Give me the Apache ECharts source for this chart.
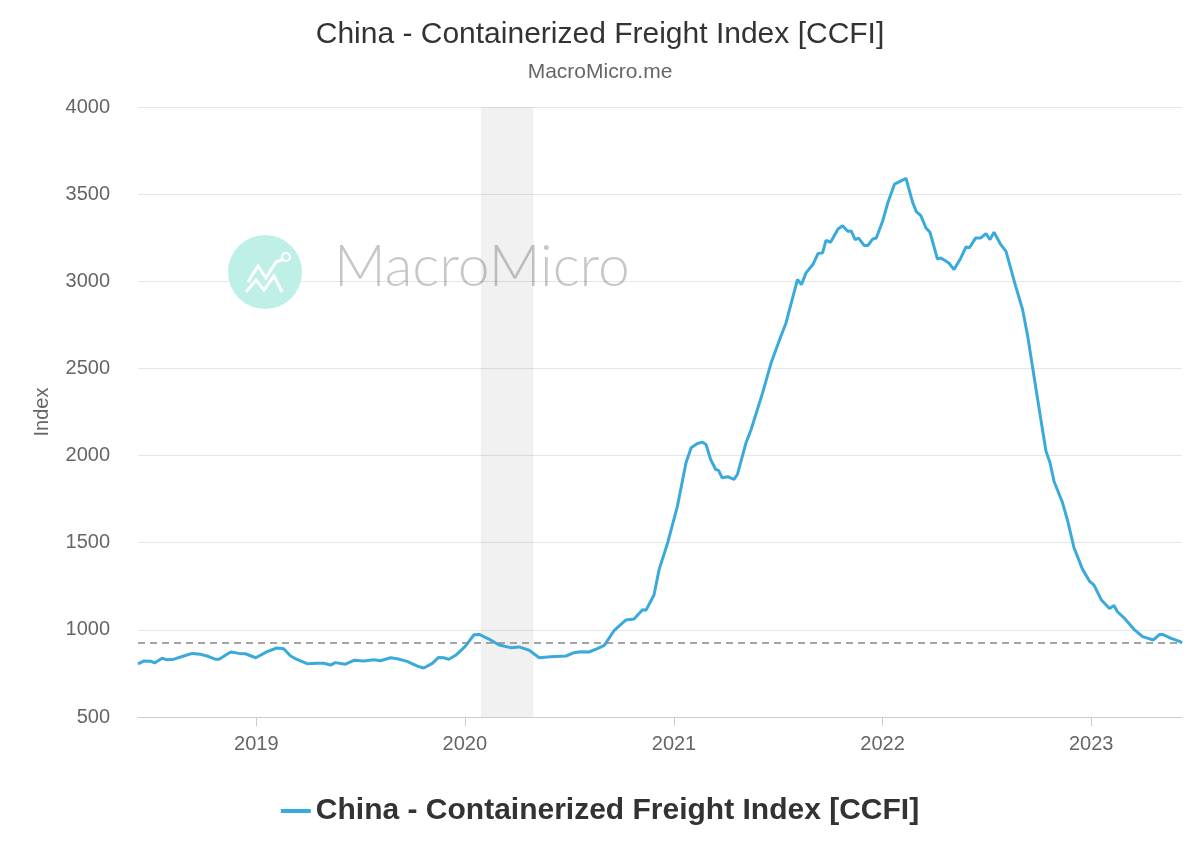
<!DOCTYPE html>
<html>
<head>
<meta charset="utf-8">
<script src="https://cdn.jsdelivr.net/npm/echarts@6/dist/echarts.min.js"></script>
<style>
html,body{margin:0;padding:0;background:#fff;}
#chart{width:1200px;height:863px;}
</style>
</head>
<body>
<div id="chart"></div>
<script>
const dates = [
'2018-06-08','2018-06-18','2018-06-30','2018-07-07','2018-07-20','2018-07-29','2018-08-10','2018-08-27','2018-09-11','2018-09-25',
'2018-10-07','2018-10-22','2018-10-28','2018-11-17','2018-12-02','2018-12-13','2018-12-31','2019-01-20','2019-02-06','2019-02-18',
'2019-03-02','2019-03-13','2019-03-31','2019-04-17','2019-04-29','2019-05-11','2019-05-19','2019-06-06','2019-06-21','2019-07-08',
'2019-07-26','2019-08-06','2019-08-24','2019-09-05','2019-09-22','2019-10-10','2019-10-21','2019-11-05','2019-11-16','2019-11-25',
'2019-12-04','2019-12-16','2020-01-02','2020-01-17','2020-01-26','2020-02-15','2020-03-01','2020-03-21','2020-04-05','2020-04-22',
'2020-05-10','2020-05-30','2020-06-26','2020-07-10','2020-07-22','2020-08-05','2020-08-20','2020-09-01','2020-09-18','2020-10-09',
'2020-10-23','2020-11-07','2020-11-13','2020-11-27','2020-12-06','2020-12-21','2021-01-07','2021-01-22','2021-01-31','2021-02-11',
'2021-02-20','2021-02-26','2021-03-06','2021-03-15','2021-03-20','2021-03-26','2021-04-05','2021-04-16','2021-04-22','2021-05-07',
'2021-05-16','2021-06-05','2021-06-20','2021-07-07','2021-07-16','2021-08-05','2021-08-12','2021-08-20','2021-09-01','2021-09-10',
'2021-09-18','2021-09-24','2021-10-02','2021-10-15','2021-10-23','2021-11-01','2021-11-07','2021-11-14','2021-11-20','2021-11-30',
'2021-12-06','2021-12-15','2021-12-21','2022-01-01','2022-01-10','2022-01-22','2022-02-11','2022-02-23','2022-03-01','2022-03-09',
'2022-03-18','2022-03-25','2022-04-07','2022-04-13','2022-04-27','2022-05-06','2022-05-18','2022-05-27','2022-06-02','2022-06-13',
'2022-06-22','2022-07-01','2022-07-08','2022-07-15','2022-07-27','2022-08-05','2022-08-22','2022-09-03','2022-09-12','2022-09-23',
'2022-10-05','2022-10-14','2022-10-21','2022-10-28','2022-11-12','2022-11-21','2022-12-02','2022-12-17','2022-12-29','2023-01-06',
'2023-01-19','2023-02-02','2023-02-10','2023-02-16','2023-03-01','2023-03-17','2023-04-01','2023-04-20','2023-05-01','2023-05-06',
'2023-05-21','2023-06-06','2023-06-09'
];
const values = [
805,821,820,810,837,828,832,850,865,860,
850,831,831,873,865,863,840,875,896,892,
850,831,806,808,808,798,812,803,825,821,
829,823,840,834,819,792,781,808,842,840,
831,854,907,972,974,942,913,898,902,884,
840,846,850,869,875,873,892,911,995,1057,
1062,1115,1113,1200,1347,1500,1710,1959,2045,2069,
2077,2064,1978,1920,1915,1873,1879,1863,1892,2073,
2150,2360,2532,2685,2761,3010,2981,3048,3096,3159,
3163,3235,3224,3300,3319,3287,3289,3239,3248,3205,
3205,3243,3248,3344,3449,3558,3590,3449,3400,3377,
3306,3281,3128,3134,3105,3067,3134,3197,3192,3249,
3249,3274,3239,3281,3210,3172,2971,2838,2685,2455,
2207,2025,1959,1853,1729,1624,1471,1347,1280,1257,
1171,1122,1140,1104,1064,1003,961,942,974,974,
951,932,925
];
const yearTicks = ['2019-01-01','2020-01-01','2021-01-01','2022-01-01','2023-01-01'];
const yearLabels = ['2019','2020','2021','2022','2023'];
const xRange = ['2018-06-08','2023-06-09'];
const recession = ['2020-01-29','2020-04-30'];
const seriesName = 'China - Containerized Freight Index [CCFI]';

const FONT = '"Liberation Sans", Arial, Helvetica, sans-serif';
const ts = d => Date.parse(d + 'T00:00:00Z');
const chart = echarts.init(document.getElementById('chart'), null, {renderer:'canvas'});
const latest = values[values.length-1];
const tickTimes = yearTicks.map(ts);

chart.setOption({
  animation:false,
  backgroundColor:'#ffffff',
  textStyle:{fontFamily:FONT},
  title:{
    text:seriesName,
    subtext:'MacroMicro.me',
    left:'center',
    top:15,
    itemGap:12,
    textStyle:{fontSize:30,fontWeight:'normal',color:'#333333',fontFamily:FONT},
    subtextStyle:{fontSize:21,color:'#666666',fontFamily:FONT}
  },
  graphic:[
    {type:'circle',shape:{cx:265,cy:272,r:37},style:{fill:'#bff0e8'},z:100,silent:true},
    {type:'polyline',shape:{points:[[248,282],[258,266],[266,278],[276,262],[284,259]]},style:{stroke:'#ffffff',lineWidth:3,fill:null},z:101,silent:true},
    {type:'polyline',shape:{points:[[246,292],[256,280],[264,290],[274,276],[282,292]]},style:{stroke:'#ffffff',lineWidth:3,fill:null},z:101,silent:true},
    {type:'circle',shape:{cx:286,cy:257,r:4},style:{fill:'none',stroke:'#ffffff',lineWidth:2},z:101,silent:true},
    {type:'text',left:334,top:239,style:{text:'MacroMicro',font:'300 57px Lato, "Open Sans", sans-serif',fill:'rgba(0,0,0,0.22)'},z:100,silent:true}
  ],
  grid:{left:138,right:18,top:107,bottom:146,containLabel:false},
  legend:{
    bottom:32,
    left:'center',
    icon:'rect',
    itemWidth:30,
    itemHeight:4,
    itemGap:10,
    data:[seriesName],
    textStyle:{fontSize:30,fontWeight:'bold',color:'#333333',fontFamily:FONT}
  },
  xAxis:{
    type:'value',
    min:ts(xRange[0]),
    max:ts(xRange[1]),
    axisLine:{show:true,lineStyle:{color:'#cccccc',width:1}},
    axisTick:{show:true,length:9,lineStyle:{color:'#cccccc'},customValues:tickTimes},
    axisLabel:{color:'#666666',fontSize:20,margin:17,fontFamily:FONT,customValues:tickTimes,
      formatter:function(v){const i=tickTimes.indexOf(v);return i>=0?yearLabels[i]:'';}},
    splitLine:{show:false}
  },
  yAxis:{
    type:'value',
    min:500,
    max:4000,
    interval:500,
    name:'Index',
    nameLocation:'middle',
    nameGap:86,
    nameTextStyle:{fontSize:20,color:'#666666',fontFamily:FONT},
    axisLine:{show:false},
    axisTick:{show:false},
    axisLabel:{color:'#666666',fontSize:20,margin:28,fontFamily:FONT,formatter:function(v){return String(v);}},
    splitLine:{lineStyle:{color:'#e6e6e6',width:1}}
  },
  series:[
    {
      type:'line',
      name:'recession',
      data:[],
      z:1,
      silent:true,
      markArea:{silent:true,itemStyle:{color:'rgba(0,0,0,0.055)'},data:[[{xAxis:ts(recession[0])},{xAxis:ts(recession[1])}]]}
    },
    {
      type:'line',
      name:seriesName,
      data:dates.map((d,i)=>[ts(d),values[i]]),
      showSymbol:false,
      symbol:'none',
      smooth:false,
      z:3,
      color:'#3aaadc',
      lineStyle:{color:'#3aaadc',width:3},
      markLine:{
        silent:true,
        symbol:'none',
        label:{show:false},
        lineStyle:{color:'#888888',type:[7,5],width:1.5},
        data:[{yAxis:latest}]
      }
    }
  ]
});
</script>
</body>
</html>
